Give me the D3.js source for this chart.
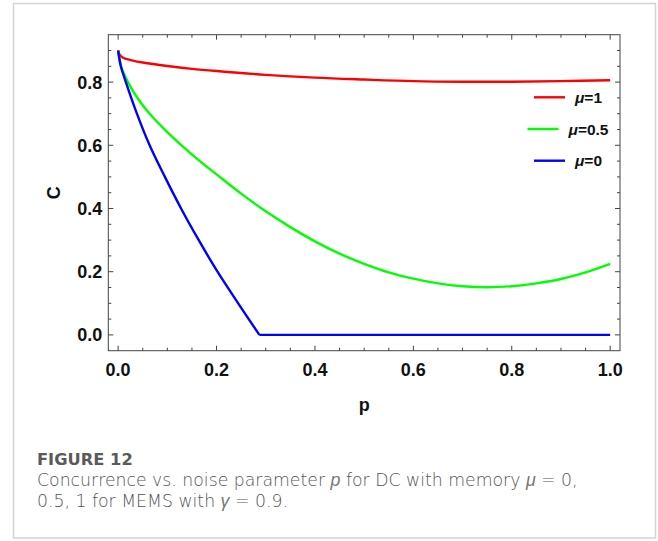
<!DOCTYPE html>
<html>
<head>
<meta charset="utf-8">
<script src="https://cdn.jsdelivr.net/npm/d3@7"></script>
<style>
  html, body { margin: 0; padding: 0; background: #fff; }
  svg { display: block; }
</style>
</head>
<body>
<svg id="chart" width="658" height="541"></svg>
<script>
// ---------------- data ----------------
const redP   = [0, 0.003, 0.01, 0.03, 0.05, 0.1, 0.15, 0.2, 0.3, 0.4, 0.5, 0.6, 0.7, 0.8, 0.9, 1.0];
const redC   = [0.9, 0.887, 0.877, 0.868, 0.862, 0.851, 0.842, 0.835, 0.823, 0.814, 0.808, 0.803, 0.801, 0.801, 0.803, 0.806];

const greenP = [0, 0.006, 0.02, 0.04, 0.064, 0.1, 0.129, 0.166, 0.2, 0.25, 0.3, 0.35, 0.4, 0.45, 0.5, 0.55, 0.6, 0.65, 0.7, 0.75, 0.8, 0.85, 0.9, 0.95, 1.0];
const greenC = [0.9, 0.85, 0.8, 0.748, 0.7, 0.642, 0.6, 0.55, 0.508, 0.447, 0.391, 0.341, 0.296, 0.257, 0.225, 0.198, 0.178, 0.163, 0.154, 0.151, 0.154, 0.163, 0.177, 0.198, 0.225];

const blueP  = [0, 0.0055, 0.0157, 0.037, 0.064, 0.095, 0.129, 0.163, 0.2, 0.244, 0.287, 1.0];
const blueC  = [0.9, 0.85, 0.8, 0.705, 0.6, 0.5, 0.397, 0.302, 0.205, 0.1, 0, 0];
const blueKinkIndex = 10;

const seriesNames  = ["\u03bc=1", "\u03bc=0.5", "\u03bc=0"];
const seriesColors = ["#ff0000", "#00ff00", "#0000ff"];

const xTickValues = [0, 0.2, 0.4, 0.6, 0.8, 1.0];
const yTickValues = [0, 0.2, 0.4, 0.6, 0.8];
const xMinorTicks = d3.range(0, 1.0001, 0.05);
const yMinorTicks = d3.range(0, 0.9001, 0.05);

const xLabel = "p";
const yLabel = "C";
const figureTitle = "FIGURE 12";

// ---------------- layout ----------------
const svg = d3.select("#chart");
const plot = { left: 108.3, right: 620, top: 34.7, bottom: 350.7 };

// card
svg.append("rect")
  .attr("x", 13.5).attr("y", 3.5).attr("width", 642).attr("height", 534.5)
  .attr("fill", "#fff").attr("stroke", "#d4d4d4").attr("stroke-width", 1.5);

const x = d3.scaleLinear().domain([-0.02, 1.02]).range([plot.left, plot.right]);
const y = d3.scaleLinear().domain([-0.05, 0.95]).range([plot.bottom, plot.top]);

const axisColor = "#444";
const fmt = d3.format(".1f");

// frame
svg.append("rect")
  .attr("x", plot.left).attr("y", plot.top)
  .attr("width", plot.right - plot.left).attr("height", plot.bottom - plot.top)
  .attr("fill", "none").attr("stroke", axisColor).attr("stroke-width", 1);

// ticks (inward, all four sides)
const tickG = svg.append("g").attr("stroke", axisColor).attr("stroke-width", 1);
function isMajor(v, list) { return list.some(t => Math.abs(t - v) < 1e-6); }
xMinorTicks.forEach(v => {
  const len = isMajor(v, xTickValues) ? 5 : 3;
  const px = x(v);
  tickG.append("line").attr("x1", px).attr("x2", px).attr("y1", plot.bottom).attr("y2", plot.bottom - len);
  tickG.append("line").attr("x1", px).attr("x2", px).attr("y1", plot.top).attr("y2", plot.top + len);
});
yMinorTicks.forEach(v => {
  const len = isMajor(v, yTickValues) ? 5 : 3;
  const py = y(v);
  tickG.append("line").attr("x1", plot.left).attr("x2", plot.left + len).attr("y1", py).attr("y2", py);
  tickG.append("line").attr("x1", plot.right).attr("x2", plot.right - len).attr("y1", py).attr("y2", py);
});

// tick labels
const labelFont = "'Liberation Sans', Arial, sans-serif";
svg.append("g").selectAll("text").data(xTickValues).join("text")
  .attr("x", d => x(d)).attr("y", 376)
  .attr("text-anchor", "middle")
  .attr("font-family", labelFont).attr("font-weight", "bold").attr("font-size", 18)
  .attr("fill", "#111").text(d => fmt(d));
svg.append("g").selectAll("text").data(yTickValues).join("text")
  .attr("x", plot.left - 6).attr("y", d => y(d)).attr("dy", "0.36em")
  .attr("text-anchor", "end")
  .attr("font-family", labelFont).attr("font-weight", "bold").attr("font-size", 18)
  .attr("fill", "#111").text(d => fmt(d));

// axis titles
svg.append("text")
  .attr("x", x(0.5)).attr("y", 411)
  .attr("text-anchor", "middle")
  .attr("font-family", labelFont).attr("font-weight", "bold").attr("font-size", 18)
  .attr("fill", "#111").text(xLabel);
svg.append("text")
  .attr("transform", `translate(60,${y(0.45)}) rotate(-90)`)
  .attr("text-anchor", "middle")
  .attr("font-family", labelFont).attr("font-weight", "bold").attr("font-size", 18)
  .attr("fill", "#111").text(yLabel);

// curves
svg.append("clipPath").attr("id", "clip").append("rect")
  .attr("x", plot.left).attr("y", plot.top)
  .attr("width", plot.right - plot.left).attr("height", plot.bottom - plot.top);
const curveG = svg.append("g").attr("clip-path", "url(#clip)");

const lineSmooth = d3.line().x(d => x(d[0])).y(d => y(d[1])).curve(d3.curveCatmullRom.alpha(0.5));
const lineStraight = d3.line().x(d => x(d[0])).y(d => y(d[1]));

const redPts = d3.zip(redP, redC);
const greenPts = d3.zip(greenP, greenC);
const bluePts = d3.zip(blueP, blueC);

curveG.append("path").attr("d", lineSmooth(redPts))
  .attr("fill", "none").attr("stroke", seriesColors[0]).attr("stroke-width", 2.4);
curveG.append("path").attr("d", lineSmooth(greenPts))
  .attr("fill", "none").attr("stroke", seriesColors[1]).attr("stroke-width", 2.4);
curveG.append("path")
  .attr("d", lineSmooth(bluePts.slice(0, blueKinkIndex + 1)) + lineStraight(bluePts.slice(blueKinkIndex)))
  .attr("fill", "none").attr("stroke", seriesColors[2]).attr("stroke-width", 2.4)
  .attr("stroke-linejoin", "miter");

// legend
const legendCenterX = 568;
const legendRows = [97.3, 129, 160.7];
seriesNames.forEach((name, i) => {
  const g = svg.append("g");
  const t = g.append("text")
    .attr("y", legendRows[i]).attr("dy", "0.36em")
    .attr("font-family", labelFont).attr("font-weight", "bold").attr("font-size", 15.5)
    .attr("fill", "#111");
  t.append("tspan").attr("font-style", "italic").text(name.slice(0, 1));
  t.append("tspan").text(name.slice(1));
  const w = t.node().getComputedTextLength();
  const lineLen = 31, gap = 10;
  const total = lineLen + gap + w;
  const x0 = legendCenterX - total / 2;
  g.append("line").attr("x1", x0).attr("x2", x0 + lineLen)
    .attr("y1", legendRows[i]).attr("y2", legendRows[i])
    .attr("stroke", seriesColors[i]).attr("stroke-width", 2.4);
  t.attr("x", x0 + lineLen + gap);
});

// caption
const capFont = "'DejaVu Sans', sans-serif";
const capItalicFont = "'Liberation Sans', Arial, sans-serif";
const capSize = 17.3;
svg.append("text")
  .attr("x", 37).attr("y", 465)
  .attr("font-family", capFont).attr("font-weight", 700).attr("font-size", 16.3)
  .attr("fill", "#5a5a5a").text(figureTitle);
function italicPart(sel, s) {
  sel.append("tspan").attr("font-family", capItalicFont).attr("font-style", "italic")
    .attr("font-weight", 400).attr("font-size", capSize + 0.5).attr("fill", "#777").text(s);
}
const cap1 = svg.append("text").attr("x", 37).attr("y", 486)
  .attr("font-family", capFont).attr("font-weight", 300).attr("font-size", capSize).attr("fill", "#555");
cap1.append("tspan").text("Concurrence vs. noise parameter ");
italicPart(cap1, "p");
cap1.append("tspan").text(" for DC with memory ");
italicPart(cap1, "\u03bc");
cap1.append("tspan").text(" = 0,");
const cap2 = svg.append("text").attr("x", 37).attr("y", 507)
  .attr("font-family", capFont).attr("font-weight", 300).attr("font-size", capSize).attr("fill", "#555");
cap2.append("tspan").text("0.5, 1 for MEMS with ");
italicPart(cap2, "\u03b3");
cap2.append("tspan").text(" = 0.9.");
</script>
</body>
</html>
